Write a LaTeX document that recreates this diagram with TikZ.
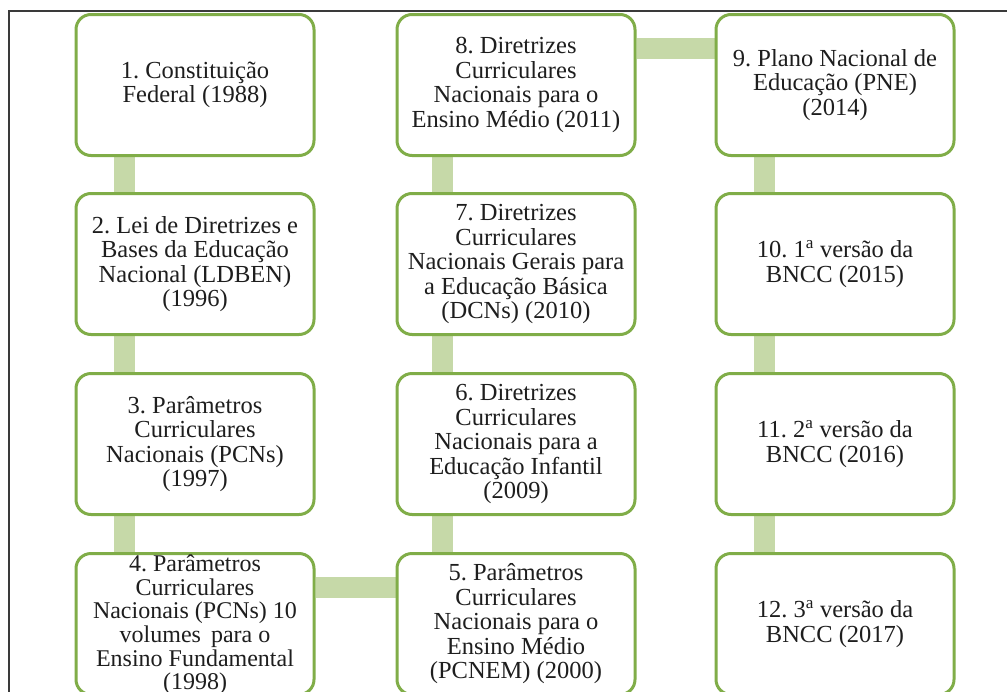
\documentclass[tikz,border=0pt]{standalone}
\usepackage{fontspec}
\setmainfont{Liberation Serif}
\usetikzlibrary{backgrounds}
\definecolor{boxgreen}{HTML}{80AD48}
\definecolor{bargreen}{HTML}{C6D9A8}
\definecolor{txt}{HTML}{1E1E1E}
\definecolor{framegray}{HTML}{3A3A3A}
\tikzset{
  stepbox/.style={draw=boxgreen, line width=3pt, fill=white, rounded corners=15pt,
    minimum width=238pt, minimum height=141pt, inner sep=0pt, align=center,
    text=txt, font=\fontsize{24.5}{24.5}\selectfont\frenchspacing},
  conn/.style={draw=bargreen, line width=21pt},
  frameline/.style={draw=framegray, line width=2.2pt}
}
\begin{document}
\begin{tikzpicture}[x=1pt,y=-1pt]
\useasboundingbox (0,0) rectangle (1007,691);
\draw[frameline] (9,700) -- (9,11) -- (1010,11);
% column 1
\node[stepbox] (b1) at (195,85) {1. Constituição\\Federal (1988)};
\node[stepbox] (b2) at (195,264) {2. Lei de Diretrizes e\\Bases da Educação\\Nacional (LDBEN)\\(1996)};
\node[stepbox] (b3) at (195,444) {3. Parâmetros\\Curriculares\\Nacionais (PCNs)\\(1997)};
\node[stepbox] (b4) at (195,624) {\raisebox{-16pt}{\smash{\fontsize{24}{23}\selectfont\renewcommand{\arraystretch}{1}\begin{tabular}{@{}c@{}}4. Parâmetros\\Curriculares\\Nacionais (PCNs) 10\\volumes\, para o\\Ensino Fundamental\\(1998)\end{tabular}}}};
% column 2
\node[stepbox] (b8) at (516,85) {8. Diretrizes\\Curriculares\\Nacionais para o\\Ensino Médio (2011)};
\node[stepbox] (b7) at (516,264) {7. Diretrizes\\Curriculares\\Nacionais Gerais para\\a Educação Básica\\(DCNs) (2010)};
\node[stepbox] (b6) at (516,444) {6. Diretrizes\\Curriculares\\Nacionais para a\\Educação Infantil\\(2009)};
\node[stepbox] (b5) at (516,624) {5. Parâmetros\\Curriculares\\Nacionais para o\\Ensino Médio\\(PCNEM) (2000)};
% column 3
\node[stepbox] (b9) at (835,85) {9. Plano Nacional de\\Educação (PNE)\\(2014)};
\node[stepbox] (b10) at (835,264) {10. 1\textsuperscript{a} versão da\\BNCC (2015)};
\node[stepbox] (b11) at (835,444) {11. 2\textsuperscript{a} versão da\\BNCC (2016)};
\node[stepbox] (b12) at (835,624) {12. 3\textsuperscript{a} versão da\\BNCC (2017)};
\begin{scope}[on background layer]
\draw[conn] ([xshift=50pt]b1.south west) -- ([xshift=50pt]b2.north west);
\draw[conn] ([xshift=50pt]b2.south west) -- ([xshift=50pt]b3.north west);
\draw[conn] ([xshift=50pt]b3.south west) -- ([xshift=50pt]b4.north west);
\draw[conn] ([yshift=-35pt]b4.north east) -- ([yshift=-35pt]b5.north west);
\draw[conn] ([xshift=47pt]b5.north west) -- ([xshift=47pt]b6.south west);
\draw[conn] ([xshift=47pt]b6.north west) -- ([xshift=47pt]b7.south west);
\draw[conn] ([xshift=47pt]b7.north west) -- ([xshift=47pt]b8.south west);
\draw[conn] ([yshift=-35pt]b8.north east) -- ([yshift=-35pt]b9.north west);
\draw[conn] ([xshift=50pt]b9.south west) -- ([xshift=50pt]b10.north west);
\draw[conn] ([xshift=50pt]b10.south west) -- ([xshift=50pt]b11.north west);
\draw[conn] ([xshift=50pt]b11.south west) -- ([xshift=50pt]b12.north west);
\end{scope}
\end{tikzpicture}
\end{document}
